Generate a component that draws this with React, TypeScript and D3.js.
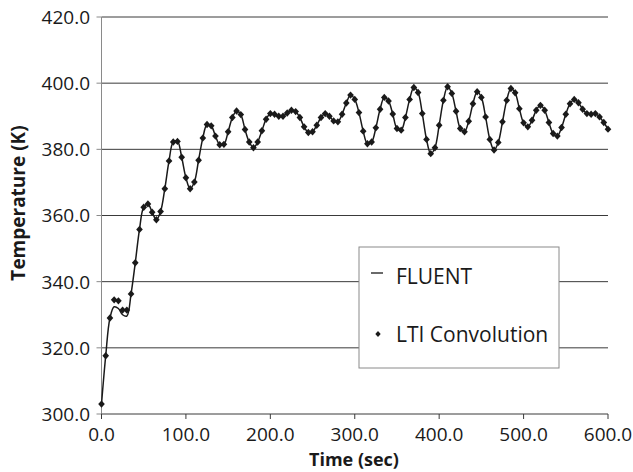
import React from "react";
import * as d3 from "d3";

const TIMES = [
  0, 5, 10, 15, 20, 25, 30, 35, 40, 45, 50, 55, 60, 65, 70, 75, 80, 85, 90, 95,
  100, 105, 110, 115, 120, 125, 130, 135, 140, 145, 150, 155, 160, 165, 170, 175, 180, 185, 190, 195,
  200, 205, 210, 215, 220, 225, 230, 235, 240, 245, 250, 255, 260, 265, 270, 275, 280, 285, 290, 295,
  300, 305, 310, 315, 320, 325, 330, 335, 340, 345, 350, 355, 360, 365, 370, 375, 380, 385, 390, 395,
  400, 405, 410, 415, 420, 425, 430, 435, 440, 445, 450, 455, 460, 465, 470, 475, 480, 485, 490, 495,
  500, 505, 510, 515, 520, 525, 530, 535, 540, 545, 550, 555, 560, 565, 570, 575, 580, 585, 590, 595,
  600,
];

const LTI = [
  303.0, 317.6, 329.0, 334.5, 334.2, 331.4, 331.4, 336.3, 345.7, 355.8,
  362.5, 363.5, 361.0, 358.7, 361.2, 368.1, 376.5, 382.2, 382.4, 377.6,
  371.4, 368.1, 370.1, 376.7, 383.4, 387.5, 387.1, 384.0, 381.4, 381.5,
  385.3, 389.6, 391.6, 390.5, 386.0, 382.2, 380.5, 382.2, 385.6, 389.1,
  390.8, 390.6, 390.0, 390.0, 391.0, 391.8, 391.4, 389.6, 386.8, 385.1,
  385.3, 387.3, 389.6, 390.8, 390.0, 388.6, 388.3, 390.6, 394.0, 396.4,
  395.1, 391.1, 385.5, 381.7, 382.2, 386.5, 392.1, 395.7, 394.6, 390.7,
  386.3, 385.8, 389.6, 395.1, 398.7, 397.2, 390.8, 383.0, 378.7, 380.5,
  387.3, 394.8, 398.9, 396.9, 391.5, 386.3, 385.3, 388.5, 393.8, 397.4,
  395.7, 389.8, 383.0, 379.8, 382.1, 388.3, 394.8, 398.4, 397.1, 392.3,
  388.0, 386.8, 388.8, 391.8, 393.3, 391.8, 388.1, 384.8, 384.0, 386.6,
  390.6, 393.8, 395.1, 394.1, 392.1, 390.8, 390.6, 390.8, 389.8, 388.1,
  386.1,
];

const FLUENT = [
  303.0, 317.6, 329.0, 332.4, 331.9, 330.0, 329.6, 336.3, 345.7, 355.8,
  362.5, 363.5, 361.0, 358.7, 361.2, 368.1, 376.5, 382.2, 382.4, 377.6,
  371.4, 368.1, 370.1, 376.7, 383.4, 387.5, 387.1, 384.0, 381.4, 381.5,
  385.3, 389.6, 391.6, 390.5, 386.0, 382.2, 380.5, 382.2, 385.6, 389.1,
  390.8, 390.6, 390.0, 390.0, 391.0, 391.8, 391.4, 389.6, 386.8, 385.1,
  385.3, 387.3, 389.6, 390.8, 390.0, 388.6, 388.3, 390.6, 394.0, 396.4,
  395.1, 391.1, 385.5, 381.7, 382.2, 386.5, 392.1, 395.7, 394.6, 390.7,
  386.3, 385.8, 389.6, 395.1, 398.7, 397.2, 390.8, 383.0, 378.7, 380.5,
  387.3, 394.8, 398.9, 396.9, 391.5, 386.3, 385.3, 388.5, 393.8, 397.4,
  395.7, 389.8, 383.0, 379.8, 382.1, 388.3, 394.8, 398.4, 397.1, 392.3,
  388.0, 386.8, 388.8, 391.8, 393.3, 391.8, 388.1, 384.8, 384.0, 386.6,
  390.6, 393.8, 395.1, 394.1, 392.1, 390.8, 390.6, 390.8, 389.8, 388.1,
  386.1,
];

const X_TICKS = [0, 100, 200, 300, 400, 500, 600];
const Y_TICKS = [300, 320, 340, 360, 380, 400, 420];
const X_TITLE = "Time (sec)";
const Y_TITLE = "Temperature (K)";
const LEGEND = ["FLUENT", "LTI Convolution"];

const W = 633;
const H = 472;
const FONT = "'Open Sans', 'DejaVu Sans', sans-serif";

export default function App() {
  const x = d3.scaleLinear().domain([0, 600]).range([101.5, 608]);
  const y = d3.scaleLinear().domain([300, 420]).range([414, 17]);

  const fluentData = TIMES.map((t, i) => [t, FLUENT[i]] as [number, number]);
  const ltiData = TIMES.map((t, i) => [t, LTI[i]] as [number, number]);

  const line = d3
    .line<[number, number]>()
    .x((d) => x(d[0]))
    .y((d) => y(d[1]))
    .curve(d3.curveCatmullRom.alpha(0.5));

  const diamond = (cx: number, cy: number, r: number) =>
    `M${cx},${cy - r}L${cx + r * 0.9},${cy}L${cx},${cy + r}L${cx - r * 0.9},${cy}Z`;

  const lx = 359;
  const ly = 247;
  const lw = 200;
  const lh = 121;

  return (
    <svg
      width={W}
      height={H}
      style={{ position: "absolute", left: 0, top: 0, background: "#fff" }}
      fontFamily={FONT}
    >
      <rect x={0} y={0} width={W} height={H} fill="#fff" />
      {Y_TICKS.filter((t) => t !== 300).map((t) => (
        <line
          key={"g" + t}
          x1={x(0)}
          x2={x(600)}
          y1={y(t)}
          y2={y(t)}
          stroke="#3a3a3a"
          strokeWidth={1}
        />
      ))}
      <line x1={x(0)} x2={x(0)} y1={y(420)} y2={y(300)} stroke="#8a8a8a" strokeWidth={1} />
      {Y_TICKS.map((t) => (
        <g key={"y" + t}>
          <line x1={x(0) - 5} x2={x(0)} y1={y(t)} y2={y(t)} stroke="#8a8a8a" />
          <text
            x={90}
            y={y(t)}
            dy="0.36em"
            textAnchor="end"
            fontSize={19}
            fill="#1a1a1a"
          >
            {t.toFixed(1)}
          </text>
        </g>
      ))}
      <line x1={x(0)} x2={x(600)} y1={y(300)} y2={y(300)} stroke="#3a3a3a" strokeWidth={1} />
      {X_TICKS.map((t) => (
        <g key={"x" + t}>
          <line x1={x(t)} x2={x(t)} y1={y(300)} y2={y(300) + 5} stroke="#3a3a3a" />
          <text x={x(t)} y={441} textAnchor="middle" fontSize={19} fill="#1a1a1a">
            {t.toFixed(1)}
          </text>
        </g>
      ))}
      <text x={354} y={466} textAnchor="middle" fontSize={18} fontWeight="bold" fill="#1a1a1a">
        {X_TITLE}
      </text>
      <text
        transform={`translate(25,${203}) rotate(-90)`}
        textAnchor="middle"
        fontSize={19}
        fontWeight="bold"
        fill="#1a1a1a"
      >
        {Y_TITLE}
      </text>
      <path d={line(fluentData) || ""} fill="none" stroke="#1a1a1a" strokeWidth={1.5} />
      {ltiData.map((d, i) => (
        <path key={"m" + i} d={diamond(x(d[0]), y(d[1]), 3.7)} fill="#1a1a1a" />
      ))}
      <rect x={lx} y={ly} width={lw} height={lh} fill="#fff" stroke="#8a8a8a" strokeWidth={1} />
      <line x1={371} x2={383} y1={273} y2={273} stroke="#1a1a1a" strokeWidth={1.3} />
      <text x={396} y={284} fontSize={21} fill="#1a1a1a">
        {LEGEND[0]}
      </text>
      <path d={diamond(378, 334, 3)} fill="#1a1a1a" />
      <text x={396} y={342} fontSize={21} fill="#1a1a1a">
        {LEGEND[1]}
      </text>
    </svg>
  );
}
